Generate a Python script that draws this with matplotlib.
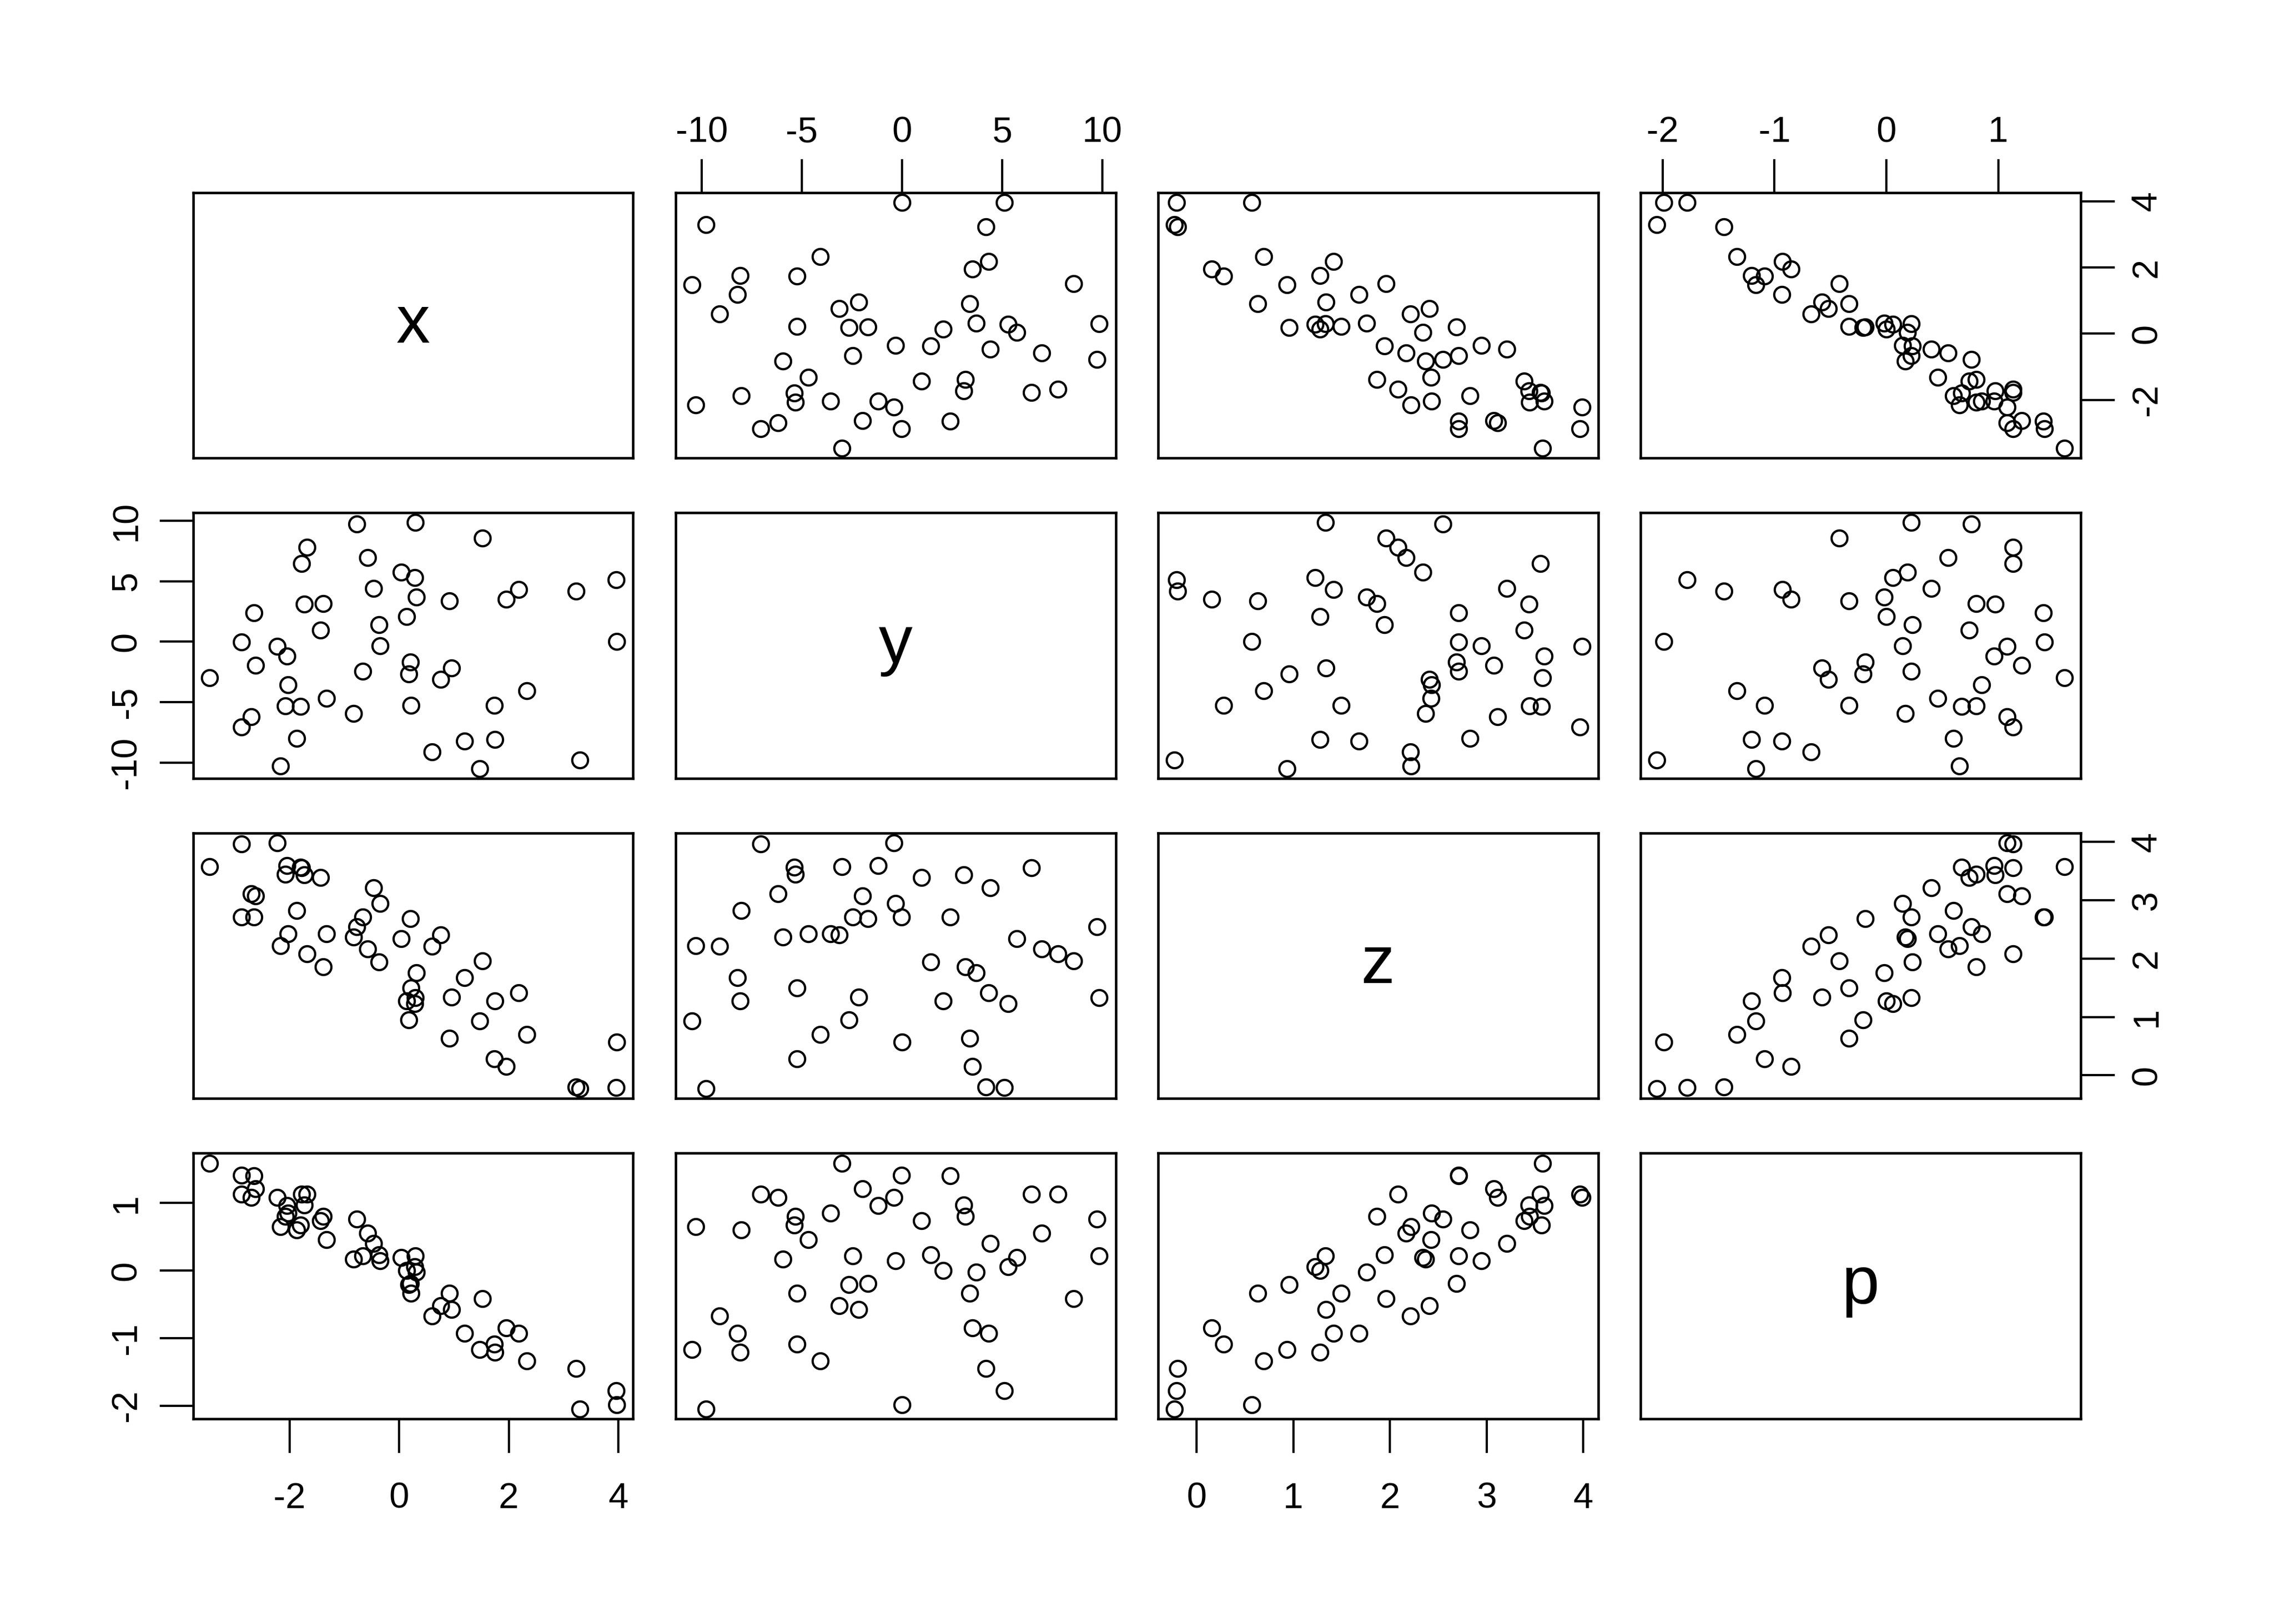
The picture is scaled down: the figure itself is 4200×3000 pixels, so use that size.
import matplotlib
matplotlib.use("Agg")
import numpy as np
import matplotlib.pyplot as plt

x = [-0.775, 0.30, -1.68, -1.78, -0.577, 0.04, 0.29, -0.468, 0.31, -2.65,
     -1.73, -1.38, 0.14, -0.37, -1.43, -2.87, -0.35, -2.22, -2.04, 0.21,
     0.18, -2.62, -3.46, -0.66, -2.03, -1.32, -2.07, -1.80, -0.83, 0.22,
     -2.70, -2.87, -1.87, -2.16, 1.515, 3.96, 3.23, 2.18, 1.95, 0.915,
     3.97, 0.955, 0.757, 2.33, 1.74, 1.75, 1.19, 0.60, 1.475, 3.30]
y = [9.73, 9.85, 7.79, 6.46, 6.97, 5.73, 5.30, 4.40, 3.69, 2.40,
     3.09, 3.17, 2.06, 1.42, 0.97, -0.03, -0.33, -0.40, -1.19, -1.69,
     -2.66, -1.97, -2.99, -2.46, -3.58, -4.67, -5.33, -5.37, -5.94, -5.25,
     -6.19, -7.06, -8.02, -10.30, 8.58, 5.11, 4.18, 4.33, 3.51, 3.39,
     0.0, -2.16, -3.13, -4.08, -5.25, -8.09, -8.21, -9.11, -10.49, -9.78]
z = [2.55, 1.33, 2.08, 3.556, 2.164, 2.34, 1.225, 3.21, 1.76, 2.71,
     3.44, 1.864, 1.275, 1.943, 3.39, 2.71, 2.945, 3.985, 3.594, 2.687,
     0.954, 3.076, 3.577, 2.71, 2.43, 2.426, 3.445, 3.566, 2.37, 1.496,
     3.112, 3.962, 2.827, 2.218, 1.96, -0.21, -0.20, 1.416, 0.154, 0.63,
     0.57, 1.336, 2.41, 0.696, 0.281, 1.278, 1.677, 2.213, 0.934, -0.23]
p = [0.76, 0.22, 1.13, 1.13, 0.55, 0.19, 0.056, 0.40, -0.02, 1.40,
     0.97, 0.80, 0.0, 0.23, 0.74, 1.41, 0.145, 1.08, 0.96, -0.19,
     -0.21, 1.21, 1.59, 0.22, 0.85, 0.46, 0.80, 0.67, 0.17, -0.335,
     1.08, 1.13, 0.60, 0.65, -0.42, -1.78, -1.45, -0.93, -0.85, -0.336,
     -1.99, -0.575, -0.518, -1.336, -1.09, -1.207, -0.933, -0.675, -1.167, -2.049]

names = ["x", "y", "z", "p"]
ticks = {"x": [-2, 0, 2, 4], "y": [-10, -5, 0, 5, 10],
         "z": [0, 1, 2, 3, 4], "p": [-2, -1, 0, 1]}
data = {"x": x, "y": y, "z": z, "p": p}


def lims(v):
    lo, hi = min(v), max(v)
    r = hi - lo
    return lo - 0.04 * r, hi + 0.04 * r


def main():
    plt.rcParams["font.family"] = ["Liberation Sans", "DejaVu Sans"]
    plt.rcParams["axes.unicode_minus"] = False

    fig = plt.figure(figsize=(14, 10), dpi=300)

    # panel geometry in figure fractions
    left0, w, dx = 0.0849, 0.1935, 0.2122
    top0, h, dy = 1 - 355.6 / 3000, 0.1635, 0.1972

    n = len(names)
    for i in range(n):          # row
        for j in range(n):      # column
            ax = fig.add_axes([left0 + j * dx, top0 - h - i * dy, w, h])
            vx, vy = names[j], names[i]
            ax.set_xlim(*lims(data[vx]))
            ax.set_ylim(*lims(data[vy]))
            for s in ax.spines.values():
                s.set_linewidth(1.1)

            if i == j:
                ax.text(0.5, 0.5, names[i], transform=ax.transAxes,
                        ha="center", va="center", fontsize=30)
            else:
                ax.plot(data[vx], data[vy], linestyle="none", marker="o",
                        mfc="none", mec="black", ms=7, mew=1.0)

            # outer axes, alternating like R's pairs()
            ax.set_xticks(ticks[vx])
            ax.set_yticks(ticks[vy])
            show_top = (i == 0 and j % 2 == 1)
            show_bottom = (i == n - 1 and j % 2 == 0)
            show_left = (j == 0 and i % 2 == 1)
            show_right = (j == n - 1 and i % 2 == 0)
            ax.tick_params(axis="x", top=show_top, labeltop=show_top,
                           bottom=show_bottom, labelbottom=show_bottom,
                           length=15, width=1.0, labelsize=16)
            ax.tick_params(axis="x", which="major", pad=4 if show_top else 13)
            ax.tick_params(axis="y", left=show_left, labelleft=show_left,
                           right=show_right, labelright=show_right,
                           length=15, width=1.0, pad=7, labelsize=16,
                           labelrotation=90)
            for lab in ax.get_yticklabels():
                lab.set_va("center")

    fig.savefig("out.png", dpi=300, facecolor="white")


if __name__ == "__main__":
    main()
